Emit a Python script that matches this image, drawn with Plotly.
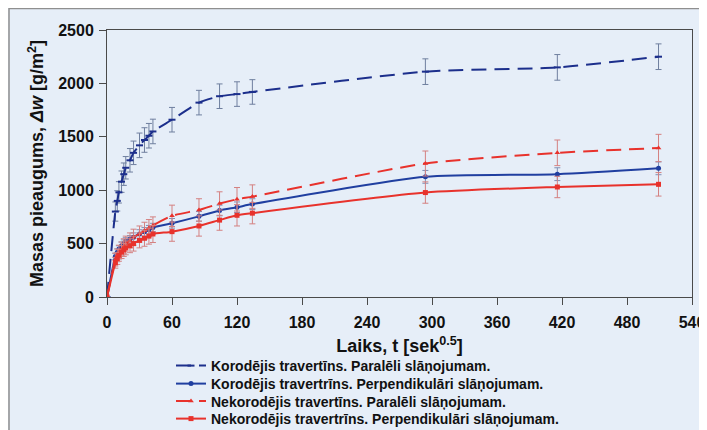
import plotly.graph_objects as go

# time axis, t [sek^0.5]
t = [0, 7.7, 9.5, 11, 13.4, 15.5, 17.3, 21.2, 24.5, 30, 34.6, 38.7, 42.4,
     60, 84.9, 103.9, 120, 134.2, 293.9, 415.7, 509.1]

kor_par = [0, 800, 900, 980, 1080, 1150, 1210, 1280, 1350, 1420, 1470, 1510, 1550,
           1660, 1820, 1880, 1900, 1920, 2110, 2150, 2250]
kor_par_err = [0, 90, 95, 100, 100, 105, 105, 110, 110, 115, 115, 115, 115,
               115, 115, 115, 115, 115, 120, 120, 120]

kor_perp = [0, 380, 420, 450, 480, 500, 520, 540, 560, 590, 610, 630, 650,
            690, 755, 810, 840, 870, 1125, 1150, 1205]
kor_perp_err = [0, 30, 30, 30, 35, 35, 35, 35, 40, 40, 40, 40, 40,
                45, 45, 50, 50, 50, 60, 60, 60]

nekor_par = [0, 350, 390, 420, 450, 475, 500, 530, 560, 590, 620, 645, 670,
             760, 815, 875, 915, 940, 1250, 1350, 1395]
nekor_par_err = [0, 60, 60, 65, 65, 70, 70, 70, 75, 75, 80, 80, 80,
                 100, 105, 110, 110, 110, 117, 120, 128]

nekor_perp = [0, 320, 360, 390, 420, 440, 460, 480, 500, 530, 550, 570, 590,
              612, 665, 720, 765, 785, 978, 1030, 1055]
nekor_perp_err = [0, 50, 55, 55, 60, 60, 65, 65, 70, 70, 75, 75, 80,
                  90, 95, 95, 100, 100, 100, 100, 110]

names = [
    "Korodējis travertīns. Paralēli slāņojumam.",
    "Korodējis travertrīns. Perpendikulāri slāņojumam.",
    "Nekorodējis travertīns. Paralēli slāņojumam.",
    "Nekorodējis travertrīns. Perpendikulāri slāņojumam.",
]
x_ticks = [0, 60, 120, 180, 240, 300, 360, 420, 480, 540]
y_ticks = [0, 500, 1000, 1500, 2000, 2500]

navy = "#1c2f8c"
blue = "#203fa0"
red = "#e8322c"

series = [
    (kor_par, kor_par_err, navy, "15px,8px", dict(symbol="line-ew", size=5, line=dict(width=2, color=navy)), "#6f7f9f"),
    (kor_perp, kor_perp_err, blue, "solid", dict(symbol="circle", size=5), "#7f8fb5"),
    (nekor_par, nekor_par_err, red, "15px,8px", dict(symbol="triangle-up", size=5), "#d48080"),
    (nekor_perp, nekor_perp_err, red, "solid", dict(symbol="square", size=5), "#d48080"),
]
legend_ids = ["legend", "legend2", "legend3", "legend4"]

# the page puts the figure at (8, 8); figure coordinates below
W, H = 699, 422
PL, PR, PT, PB = 99, 684, 22, 289
def py(p):
    return (PB - p) / (PB - PT)
def px(p):
    return (p - PL) / (PR - PL)

legend_rows = [358, 376, 393.5, 411]

fig = go.Figure()
for (ys, errs, col, dash, mk, ecol), nm, lg in zip(series, names, legend_ids):
    mk = dict(mk)
    mk.setdefault("color", col)
    fig.add_trace(go.Scatter(
        x=t, y=ys, name=nm, mode="lines+markers", legend=lg,
        line=dict(color=col, width=2, dash=dash, shape="spline", smoothing=0.6),
        marker=mk,
        error_y=dict(type="data", array=errs, visible=True, color=ecol, thickness=1, width=3),
    ))

bg = "#e6eef8"
FAM = "Liberation Sans, Arial"
axis_font = dict(family=FAM, size=16, color="#111111", weight="bold")
leg_font = dict(family=FAM, size=14, color="#111111", weight="bold")

layout_legends = {}
for lg, row in zip(legend_ids, legend_rows):
    layout_legends[lg] = dict(
        x=px(163), y=py(row), xanchor="left", yanchor="middle",
        bgcolor="rgba(0,0,0,0)", font=leg_font, itemwidth=30,
    )

fig.update_layout(
    width=W, height=H,
    margin=dict(l=PL, r=W - PR, t=PT, b=H - PB, autoexpand=False),
    paper_bgcolor=bg, plot_bgcolor=bg,
    showlegend=True,
    xaxis=dict(
        range=[0, 540], tickvals=x_ticks, ticktext=[str(v) for v in x_ticks],
        showgrid=False, zeroline=False, showline=True, linecolor="#4a4a4a", linewidth=1,
        mirror=True, ticks="outside", ticklen=7, tickcolor="#4a4a4a",
        ticklabelstandoff=4,
        tickfont=axis_font,
        title=dict(text="Laiks, t [sek<sup>0.5</sup>]", standoff=9,
                   font=dict(family=FAM, size=18, color="#111111", weight="bold")),
    ),
    yaxis=dict(
        range=[0, 2500], tickvals=y_ticks, ticktext=[str(v) for v in y_ticks],
        showgrid=False, zeroline=False, showline=True, linecolor="#4a4a4a", linewidth=1,
        mirror=True, ticks="outside", ticklen=7, tickcolor="#4a4a4a",
        ticklabelstandoff=2,
        tickfont=axis_font,
        title=dict(text="Masas pieaugums, <i>Δw</i> [g/m<sup>2</sup>]", standoff=9,
                   font=dict(family=FAM, size=18, color="#111111", weight="bold")),
    ),
    shapes=[dict(type="rect", xref="paper", yref="paper",
                 x0=px(1), x1=px(W + 5), y0=py(H + 5), y1=py(0.5),
                 line=dict(color="#8f8f8f", width=1.5), fillcolor="rgba(0,0,0,0)", layer="below")],
    **layout_legends,
)

fig.write_html("out.html")
